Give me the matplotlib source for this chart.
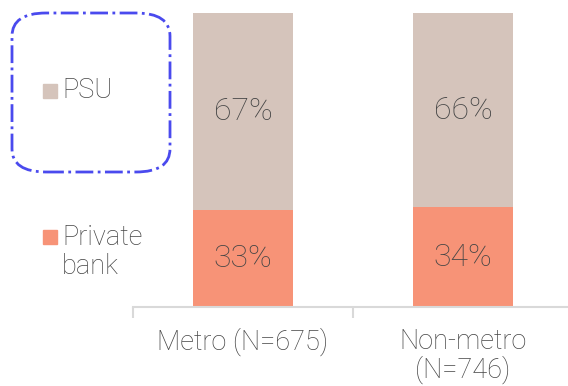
import matplotlib
matplotlib.use("Agg")
import matplotlib.pyplot as plt
from matplotlib.patches import FancyBboxPatch, Rectangle

plt.rcParams['font.family'] = ['Roboto', 'DejaVu Sans']

# data
categories = ['Metro (N=675)', 'Non-metro\n(N=746)']
private_bank = [33, 34]
psu = [67, 66]
series_names = ['Private\nbank', 'PSU']

PRIVATE_COLOR = '#f79377'
PSU_COLOR = '#d5c4bb'
TEXT_COLOR = '#454545'
AXIS_COLOR = '#d9d9d9'
WEIGHT = 'light'

W, H = 568, 386
fig = plt.figure(figsize=(W / 100, H / 100), dpi=100)

# axes spans from x=133 to x=573 px, bar area y=13..307 px
ax = fig.add_axes([133 / W, (H - 307) / H, 440 / W, 294 / H])
x = list(range(len(categories)))
ax.bar(x, private_bank, width=0.455, color=PRIVATE_COLOR)
ax.bar(x, psu, width=0.455, bottom=private_bank, color=PSU_COLOR)

for i in x:
    ax.text(i, private_bank[i] / 2, f'{private_bank[i]}%', ha='center', va='center',
            fontsize=23, color=TEXT_COLOR, fontweight=WEIGHT)
    ax.text(i, private_bank[i] + psu[i] / 2, f'{psu[i]}%', ha='center', va='center',
            fontsize=23, color=TEXT_COLOR, fontweight=WEIGHT)

ax.set_xlim(-0.5, 1.5)
ax.set_ylim(0, 100)
for s in ['top', 'right', 'left']:
    ax.spines[s].set_visible(False)
ax.spines['bottom'].set_color(AXIS_COLOR)
ax.spines['bottom'].set_linewidth(1.5)
ax.set_yticks([])
ax.set_xticks([-0.5, 0.5, 1.5], minor=True)
ax.tick_params(axis='x', which='minor', length=8, width=1.5, color=AXIS_COLOR, direction='out')
ax.tick_params(axis='x', which='major', length=0, pad=15)
ax.set_xticks(x)
ax.set_xticklabels(categories, fontsize=19.5, color=TEXT_COLOR, fontweight=WEIGHT,
                   linespacing=1.05)

# legend on the left, drawn in figure pixels
fig.patches.append(Rectangle((43 / W, (H - 98) / H), 14 / W, 14 / H,
                             transform=fig.transFigure, color=PSU_COLOR))
fig.text(62 / W, (H - 91) / H, series_names[1], ha='left', va='center',
         fontsize=19.5, color=TEXT_COLOR, fontweight=WEIGHT)
fig.patches.append(Rectangle((43 / W, (H - 244) / H), 14 / W, 14 / H,
                             transform=fig.transFigure, color=PRIVATE_COLOR))
fig.text(62 / W, (H - 224) / H, series_names[0], ha='left', va='top',
         fontsize=19.5, color=TEXT_COLOR, fontweight=WEIGHT, linespacing=1.08)

# highlight box around the PSU legend entry
box = FancyBboxPatch((12 / W, (H - 172) / H), 158 / W, 159 / H,
                     boxstyle='round,pad=0,rounding_size=0.06',
                     transform=fig.transFigure, fill=False, edgecolor='#4a4aee',
                     linewidth=2, linestyle='-.')
fig.patches.append(box)

fig.savefig('out.png', dpi=100)
